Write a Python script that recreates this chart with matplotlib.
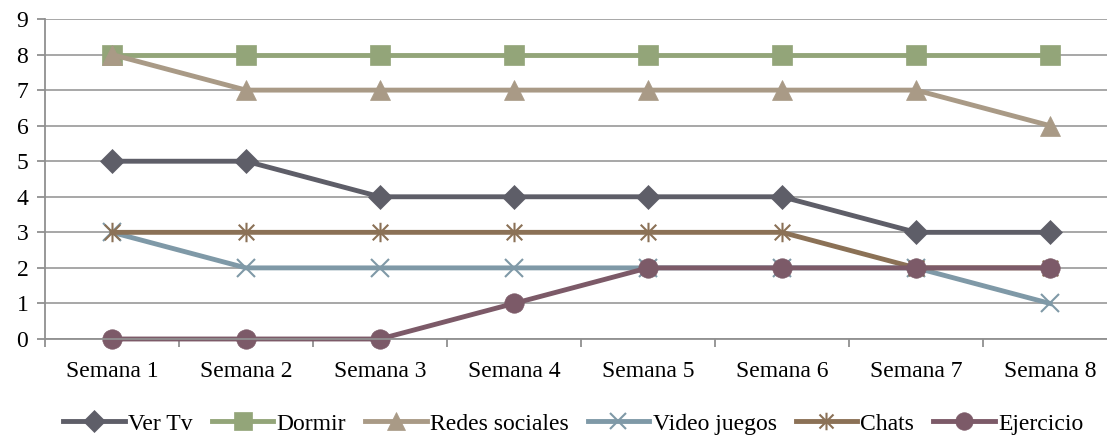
import numpy as np
import matplotlib.pyplot as plt
from matplotlib.path import Path

plt.rcParams['font.family'] = ['Liberation Serif', 'DejaVu Serif']

semanas = ['Semana 1', 'Semana 2', 'Semana 3', 'Semana 4',
           'Semana 5', 'Semana 6', 'Semana 7', 'Semana 8']
ver_tv = [5, 5, 4, 4, 4, 4, 3, 3]
dormir = [8, 8, 8, 8, 8, 8, 8, 8]
redes_sociales = [8, 7, 7, 7, 7, 7, 7, 6]
video_juegos = [3, 2, 2, 2, 2, 2, 2, 1]
chats = [3, 3, 3, 3, 3, 3, 2, 2]
ejercicio = [0, 0, 0, 1, 2, 2, 2, 2]

# asterisk: vertical bar plus an X
asterisco = Path([(0, -1), (0, 1), (-0.8, -0.8), (0.8, 0.8), (-0.8, 0.8), (0.8, -0.8)],
                 [Path.MOVETO, Path.LINETO] * 3)

series = [
    ('Ver Tv', ver_tv, '#5e5e68', 'D', 12),
    ('Dormir', dormir, '#93a579', 's', 14),
    ('Redes sociales', redes_sociales, '#a99a86', '^', 14),
    ('Video juegos', video_juegos, '#7f99a7', 'x', 13),
    ('Chats', chats, '#8b7156', asterisco, 14),
    ('Ejercicio', ejercicio, '#7c5a68', 'o', 14),
]

fig = plt.figure(figsize=(11.07, 4.37), dpi=100)
ax = fig.add_axes([45 / 1107, 98 / 437, 1072 / 1107, 320 / 437])

x = np.arange(len(semanas))
for name, vals, col, mk, ms in series:
    thin = mk is asterisco or mk == 'x'
    ax.plot(x, vals, color=col, lw=3.5, marker=mk, ms=ms,
            mfc=col, mec=col, mew=1.5 if thin else 0.5, label=name,
            clip_on=False)

ax.set_ylim(0, 9)
ax.set_xlim(-0.5, 7.5)
ax.set_yticks(range(10))
ax.yaxis.grid(True, color='#a0a0a0', lw=1.3)
ax.set_axisbelow(True)

ax.set_xticks(x)
ax.set_xticklabels(semanas)
ax.set_xticks(np.arange(-0.5, 8, 1), minor=True)
ax.tick_params(axis='x', which='major', length=0, pad=16, labelsize=17)
ax.tick_params(axis='x', which='minor', length=6, color='#909090', width=1.3)
ax.tick_params(axis='y', length=6, color='#909090', width=1.3, labelsize=17, pad=6)

for s in ['top', 'right']:
    ax.spines[s].set_visible(False)
for s in ['left', 'bottom']:
    ax.spines[s].set_color('#909090')
    ax.spines[s].set_linewidth(1.3)

fig.legend(loc='center', bbox_to_anchor=(0.518, 0.03), ncol=6, frameon=False,
           fontsize=17, handlelength=2.6, handletextpad=0.15, columnspacing=0.8,
           markerscale=0.9)

fig.savefig('out.png', dpi=100)
